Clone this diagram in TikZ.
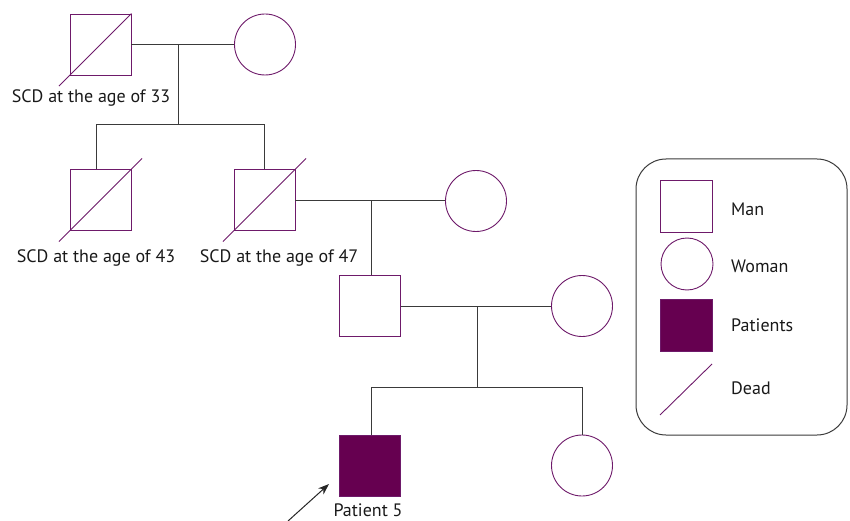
\documentclass[tikz,border=0pt]{standalone}
\usepackage{fontspec}
\setmainfont{PT Sans}
\usetikzlibrary{arrows.meta,calc}
\definecolor{pur}{HTML}{6E1A6A}
\definecolor{pfill}{HTML}{660050}
\definecolor{ln}{HTML}{3A3A3A}
\tikzset{
  man/.style={draw=pur,line width=0.9pt,minimum size=61pt,inner sep=0pt,rectangle,fill=white},
  woman/.style={draw=pur,line width=0.9pt,minimum size=61pt,inner sep=0pt,circle,fill=white},
  patient/.style={man,fill=pfill},
  conn/.style={draw=ln,line width=1pt},
  dead/.style={draw=pur,line width=0.9pt},
  lbl/.style={font=\fontsize{18}{21}\selectfont,text=black!90,inner sep=0pt},
}
\begin{document}
\begin{tikzpicture}[x=1pt,y=-1pt]
\useasboundingbox (0,0) rectangle (850,521);
% generation 1
\node[man] (m1) at (100.5,44.5) {};
\node[woman] (w1) at (265,44.5) {};
\coordinate (j1) at (178,44.5);
\coordinate (s1) at (178,125);
\coordinate (s1l) at (96,125);
\coordinate (s1r) at (264.5,125);
\draw[conn] (m1.east) -- (w1.west);
\draw[conn] (j1) -- (s1);
\draw[dead,shorten <=-15pt] (m1.south west) -- (m1.north east);
\node[lbl] (t1) at (91,98) {SCD at the age of 33};
% generation 2
\node[man] (m2) at (100.5,200) {};
\node[man] (m3) at (264.5,200) {};
\node[woman] (w2) at (476,201) {};
\draw[conn] (s1l) -- (s1r);
\draw[conn] (s1l) -- (s1l |- m2.north);
\draw[conn] (s1r) -- (m3.north);
\draw[dead,shorten <=-15pt,shorten >=-15pt] (m2.south west) -- (m2.north east);
\draw[dead,shorten <=-15pt,shorten >=-15pt] (m3.south west) -- (m3.north east);
\node[lbl] (t2) at (96,258) {SCD at the age of 43};
\node[lbl] (t3) at (279,258) {SCD at the age of 47};
\coordinate (j2) at (371,201);
\draw[conn] (m3.east |- w2.west) -- (w2.west);
% generation 3
\node[man] (m4) at (370,305.5) {};
\node[woman] (w3) at (582,306) {};
\draw[conn] (j2) -- (j2 |- m4.north);
\coordinate (j3) at (477,306);
\coordinate (s3) at (477,387);
\coordinate (s3l) at (371,387);
\coordinate (s3r) at (582,387);
\draw[conn] (m4.east |- w3.west) -- (w3.west);
\draw[conn] (j3) -- (s3);
\draw[conn] (s3l) -- (s3r);
% generation 4
\node[patient] (p5) at (370,465.5) {};
\node[woman] (w4) at (582,465.5) {};
\draw[conn] (s3l) -- (s3l |- p5.north);
\draw[conn] (s3r) -- (w4.north);
\node[lbl] (t5) at (368,510) {Patient 5};
\coordinate (arr) at (288,521);
\draw[draw=black!85,line width=1pt,-{Stealth[length=11pt,width=8pt]}] (arr) -- (329,484);
% legend
\node[draw=ln,line width=1pt,rounded corners=30pt,minimum width=211pt,minimum height=276pt,inner sep=0pt] (leg) at (741.5,297) {};
\node[man,minimum size=52pt] (lm) at (686,206) {};
\node[woman,minimum size=52pt] (lw) at (687,264) {};
\node[patient,minimum size=52pt] (lp) at (686,325.5) {};
\coordinate (ld1) at (660,415);
\coordinate (ld2) at (712,364);
\draw[dead] (ld1) -- (ld2);
\node[lbl,anchor=west] (tm) at (731,209) {Man};
\node[lbl,anchor=west] (tw) at (731,266) {Woman};
\node[lbl,anchor=west] (tp) at (731,325) {Patients};
\node[lbl,anchor=west] (td) at (731,388) {Dead};
\end{tikzpicture}
\end{document}
